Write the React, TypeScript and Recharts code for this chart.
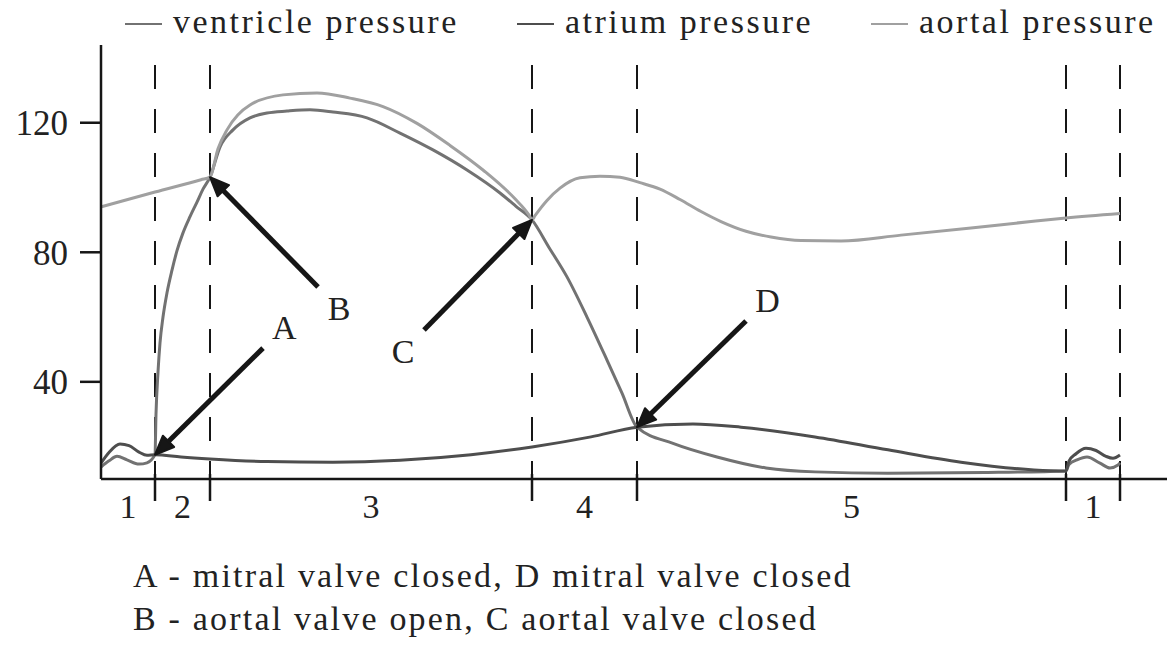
import React from 'react';
import { LineChart, Line, XAxis, YAxis, ReferenceLine } from 'recharts';

const SERIF = '"Liberation Serif", "Times New Roman", serif';
const INK = '#161616';

// Pressure (mmHg) against time over one cardiac cycle, as [time, pressure] pairs
const ventricle: [number, number][] = [
  [0, 13.7], [8, 15.6], [16, 17.0], [26, 15.9], [38, 14.6], [46, 15.0], [54, 17.5],
  [55, 30], [57, 43], [59, 52], [62, 60], [66, 67.5], [71, 74.5], [76, 80.5], [82, 86],
  [89, 91], [96, 95.5], [102, 99.5], [109, 103.2],
  [119, 112.5], [132, 117.8], [149, 121.5], [166, 123], [186, 123.6], [209, 124],
  [232, 123.3], [266, 121.5], [299, 116.8], [332, 111.6], [366, 105.4], [399, 98.3],
  [415, 94.2], [431, 90],
  [448, 81.5], [466, 72.4], [486, 60], [506, 46.7], [521, 36.5], [536, 26],
  [572, 21], [616, 16.8], [665, 13.4], [714, 12.2], [787, 11.8], [884, 12.0], [965, 12.5],
  [968, 14.5], [976, 15.9], [986, 16.8], [999, 14.9], [1009, 13.4], [1017, 14.3], [1019, 15],
];

const atrium: [number, number][] = [
  [0, 14.9], [8, 18.2], [19, 20.8], [28, 20.3], [38, 18.3], [46, 17.3], [54, 17.5],
  [80, 16.8], [109, 16.2], [166, 15.4], [232, 15.2], [299, 15.8], [370, 17.5], [431, 19.9],
  [490, 23], [536, 26], [592, 27], [640, 26], [714, 23], [787, 19], [860, 15.2], [933, 12.8],
  [965, 12.5], [968, 15.5], [975, 17.8], [985, 19.5], [995, 18.8], [1005, 17.0], [1012, 16.4],
  [1019, 17.4],
];

const aorta: [number, number][] = [
  [0, 94], [54, 98.6], [100, 102.4], [109, 103.2],
  [117, 112], [126, 117.8], [149, 125.5], [182, 128.6], [216, 129.2], [249, 127.6],
  [282, 125], [316, 119.8], [349, 113], [382, 105.4], [414, 96.5], [428, 91.5], [431, 90],
  [434, 91.3], [446, 96], [459, 99.8], [479, 103], [499, 103.5], [519, 103.2], [539, 101.5],
  [559, 99.5], [579, 96.3], [600, 92.6], [620, 89.5], [645, 86.5], [670, 84.7], [700, 83.6],
  [740, 83.5], [800, 85.3], [870, 87.5], [930, 89.5], [965, 90.6], [1019, 92],
];

// Phase boundaries (time) and the phase numbers between them
const phaseBounds = [54, 109, 431, 536, 965, 1019];
const phaseNames = ['1', '2', '3', '4', '5', '1'];

const yTicks = [40, 80, 120];

const seriesNames = ['ventricle pressure', 'atrium pressure', 'aortal pressure'];
const seriesColors = ['#727272', '#4e4e4e', '#a0a0a0'];

// Valve events: arrow from a label to the point on the curves
const valveLabels = ['A', 'B', 'C', 'D'];
const valvePoints: [number, number][] = [[54, 17.5], [109, 103.2], [431, 90], [536, 26]];
const arrowTails: [number, number][] = [[162, 50.4], [217, 69.3], [323, 56], [645, 58.8]];

const notes = [
  'A - mitral valve closed, D mitral valve closed',
  'B - aortal valve open, C aortal valve closed',
];

const toRows = (pts: [number, number][]) => pts.map(([t, p]) => ({ t, p }));
const phaseMids = phaseBounds.map((b, i) => ((i === 0 ? 0 : phaseBounds[i - 1]) + b) / 2);

const PhaseTick = (props: any) => {
  const { x, y, payload } = props;
  const v = payload.value;
  const bi = phaseBounds.indexOf(v);
  if (bi >= 0) {
    return <line x1={x} y1={y - 5} x2={x} y2={y + 22} stroke={INK} strokeWidth={2.5} />;
  }
  const mi = phaseMids.indexOf(v);
  return (
    <text x={x} y={y + 39} textAnchor="middle" fontFamily={SERIF} fontSize={34} fill="#222">
      {phaseNames[mi]}
    </text>
  );
};

const makeArrow = (label: string) => (props: any) => {
  const { x1, y1, x2, y2 } = props;
  const dx = x2 - x1;
  const dy = y2 - y1;
  const len = Math.hypot(dx, dy) || 1;
  const ux = dx / len;
  const uy = dy / len;
  const head = 19;
  const half = 8;
  const bx = x2 - ux * head;
  const by = y2 - uy * head;
  const pts = `${x2},${y2} ${bx - uy * half},${by + ux * half} ${bx + uy * half},${by - ux * half}`;
  return (
    <g>
      <line x1={x1} y1={y1} x2={bx + ux * 3} y2={by + uy * 3} stroke={INK} strokeWidth={5} />
      <polygon points={pts} fill={INK} stroke={INK} strokeWidth={2} strokeLinejoin="round" />
      <text
        x={x1 - ux * 30}
        y={y1 - uy * 30}
        textAnchor="middle"
        dominantBaseline="central"
        fontFamily={SERIF}
        fontSize={34}
        fill="#222"
      >
        {label}
      </text>
    </g>
  );
};

const legendLeft = [125, 517, 871];

export default function App() {
  const series = [ventricle, atrium, aorta];
  return (
    <div
      style={{
        position: 'absolute',
        left: 0,
        top: 0,
        width: 1167,
        height: 648,
        background: '#fff',
        overflow: 'hidden',
        fontFamily: SERIF,
      }}
    >
      <LineChart width={1167} height={648} margin={{ top: 45, right: 0, bottom: 0, left: 0 }}>
        <XAxis
          type="number"
          dataKey="t"
          domain={[0, 1066]}
          allowDataOverflow
          ticks={[...phaseBounds, ...phaseMids]}
          interval={0}
          tickLine={false}
          tickSize={0}
          tickMargin={0}
          tick={<PhaseTick />}
          axisLine={{ stroke: INK, strokeWidth: 2.5 }}
          height={169}
        />
        <YAxis
          type="number"
          domain={[10, 144]}
          allowDataOverflow
          ticks={yTicks}
          width={101}
          tickSize={21}
          tickMargin={12}
          axisLine={{ stroke: INK, strokeWidth: 2.5 }}
          tickLine={{ stroke: INK, strokeWidth: 2.5 }}
          tick={{ fontSize: 35, fill: '#222', fontFamily: SERIF }}
        />
        {phaseBounds.map((b, i) => (
          <ReferenceLine
            key={'ph' + i}
            segment={[{ x: b, y: 137.8 }, { x: b, y: 10 }]}
            stroke={INK}
            strokeWidth={2}
            strokeDasharray="24 20"
            ifOverflow="visible"
          />
        ))}
        {series.map((pts, i) => (
          <Line
            key={seriesNames[i]}
            data={toRows(pts)}
            dataKey="p"
            name={seriesNames[i]}
            type="monotone"
            stroke={seriesColors[i]}
            strokeWidth={3}
            dot={false}
            activeDot={false}
            isAnimationActive={false}
          />
        ))}
        {valveLabels.map((lab, i) => (
          <ReferenceLine
            key={'arrow' + lab}
            segment={[
              { x: arrowTails[i][0], y: arrowTails[i][1] },
              { x: valvePoints[i][0], y: valvePoints[i][1] },
            ]}
            ifOverflow="visible"
            shape={makeArrow(lab)}
          />
        ))}
      </LineChart>

      {seriesNames.map((name, i) => (
        <div
          key={'lg' + name}
          style={{
            position: 'absolute',
            left: legendLeft[i],
            top: 2,
            display: 'flex',
            alignItems: 'center',
            fontSize: 34,
            letterSpacing: 2.5,
            lineHeight: '40px',
            color: '#222',
            whiteSpace: 'nowrap',
          }}
        >
          <span
            style={{
              display: 'inline-block',
              width: 37,
              height: 2,
              background: seriesColors[i],
              marginRight: 11,
              marginTop: 4,
            }}
          />
          {name}
        </div>
      ))}

      {notes.map((n, i) => (
        <div
          key={'note' + i}
          style={{
            position: 'absolute',
            left: 133,
            top: 556 + i * 43,
            fontSize: 34,
            letterSpacing: 2.2,
            lineHeight: '40px',
            color: '#222',
            whiteSpace: 'nowrap',
          }}
        >
          {n}
        </div>
      ))}
    </div>
  );
}
